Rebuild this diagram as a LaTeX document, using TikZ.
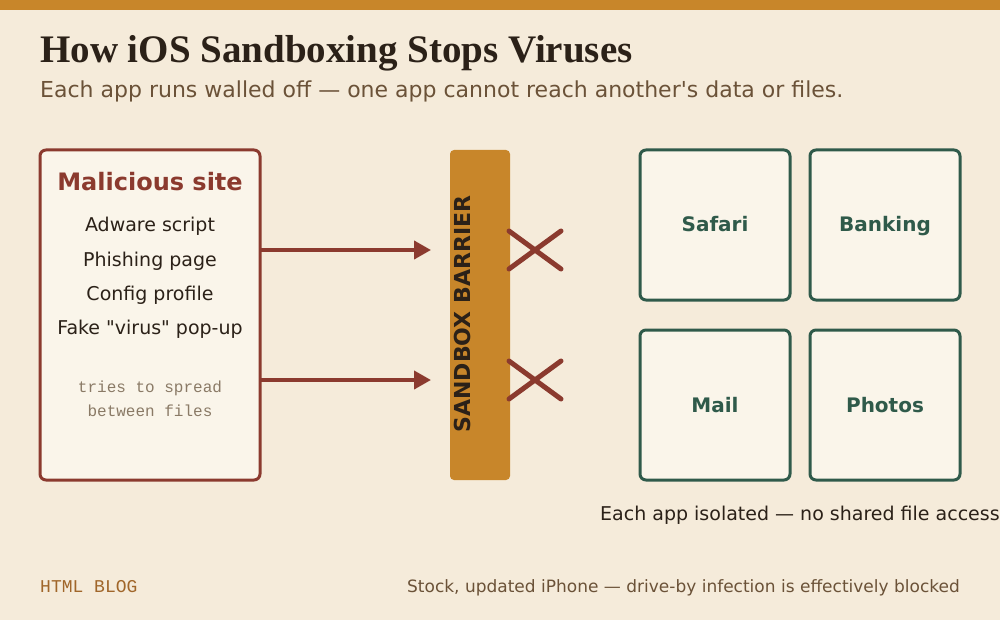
\documentclass[tikz,border=0pt]{standalone}
\usepackage{fontspec}
\setmainfont{DejaVu Sans}
\newfontfamily\titlefont{Liberation Serif}
\newfontfamily\monofont{Liberation Mono}
\usetikzlibrary{arrows.meta}
\definecolor{bg}{HTML}{F5EBDA}
\definecolor{ochre}{HTML}{C8862A}
\definecolor{rust}{HTML}{8B3A2E}
\definecolor{card}{HTML}{FAF5EA}
\definecolor{ink}{HTML}{2B2118}
\definecolor{brownt}{HTML}{6B5238}
\definecolor{greyt}{HTML}{8A7A66}
\definecolor{pine}{HTML}{2F5A4A}
\definecolor{blogc}{HTML}{A0662A}
\tikzset{
  srcbox/.style={draw=rust,line width=3pt,fill=card,rounded corners=6pt},
  appbox/.style={draw=pine,line width=3pt,fill=card,rounded corners=6pt,minimum width=150pt,minimum height=150pt,inner sep=0pt,text height=14pt,text depth=0pt,font=\fontsize{20}{24}\selectfont\bfseries,text=pine},
  item/.style={font=\fontsize{19}{23}\selectfont,text=ink,inner sep=0pt},
  monot/.style={font=\monofont\fontsize{16}{19}\selectfont,text=greyt,inner sep=0pt},
  flow/.style={draw=rust,line width=4pt,-{Triangle[length=17pt,width=18pt]}},
  cross/.style={draw=rust,line width=5pt,line cap=round},
}
\begin{document}
\begin{tikzpicture}[x=1pt,y=-1pt]
\useasboundingbox (0,0) rectangle (1000,620);
\fill[bg] (0,0) rectangle (1000,620);
\fill[ochre] (0,0) rectangle (1000,10);
\node[anchor=base west,inner sep=0pt,text=ink,font=\titlefont\fontsize{39}{44}\selectfont\bfseries] (title) at (40,63) {How iOS Sandboxing Stops Viruses};
\node[anchor=base west,inner sep=0pt,text=brownt,font=\fontsize{22}{26}\selectfont] (sub) at (40,98) {Each app runs walled off — one app cannot reach another\textquotesingle s data or files.};
% source box
\draw[srcbox] (40,150) rectangle (260,480);
\coordinate (srcR1) at (260,250);
\coordinate (srcR2) at (260,380);
\node[anchor=base,inner sep=0pt,text=rust,font=\fontsize{24}{28}\selectfont\bfseries] (mal) at (150,191) {Malicious site};
\node[item,anchor=base] (i1) at (150,232) {Adware script};
\node[item,anchor=base] (i2) at (150,266) {Phishing page};
\node[item,anchor=base] (i3) at (150,300) {Config profile};
\node[item,anchor=base] (i4) at (150,334) {Fake \textquotedbl virus\textquotedbl\ pop-up};
\node[monot,anchor=base] (m1) at (150,392) {tries to spread};
\node[monot,anchor=base] (m2) at (150,416) {between files};
% barrier
\node[fill=ochre,rounded corners=4pt,minimum width=60pt,minimum height=330pt,inner sep=0pt] (bar) at (480,315) {};
\node[rotate=90,inner sep=0pt,text=ink,font=\fontsize{22}{26}\selectfont\bfseries] (bartext) at (462,314) {SANDBOX BARRIER};
\coordinate (hit1) at (431,250);
\coordinate (hit2) at (431,380);
\draw[flow] (srcR1) -- (hit1);
\draw[flow] (srcR2) -- (hit2);
% crosses
\draw[cross] (509,231) -- (561,269);
\draw[cross] (509,269) -- (561,231);
\draw[cross] (509,361) -- (561,399);
\draw[cross] (509,399) -- (561,361);
% apps
\node[appbox] (safari) at (715,225) {Safari};
\node[appbox] (bank) at (885,225) {Banking};
\node[appbox] (mail) at (715,405) {Mail};
\node[appbox] (photos) at (885,405) {Photos};
\node[anchor=base west,inner sep=0pt,text=ink,font=\fontsize{19}{23}\selectfont] (iso) at (600,520) {Each app isolated — no shared file access};
% footer
\node[anchor=base west,inner sep=0pt,text=blogc,font=\monofont\fontsize{18}{21}\selectfont] (blog) at (40,592) {HTML BLOG};
\node[anchor=base east,inner sep=0pt,text=brownt,font=\fontsize{17}{20}\selectfont] (foot) at (960,592) {Stock, updated iPhone — drive-by infection is effectively blocked};
\end{tikzpicture}
\end{document}
